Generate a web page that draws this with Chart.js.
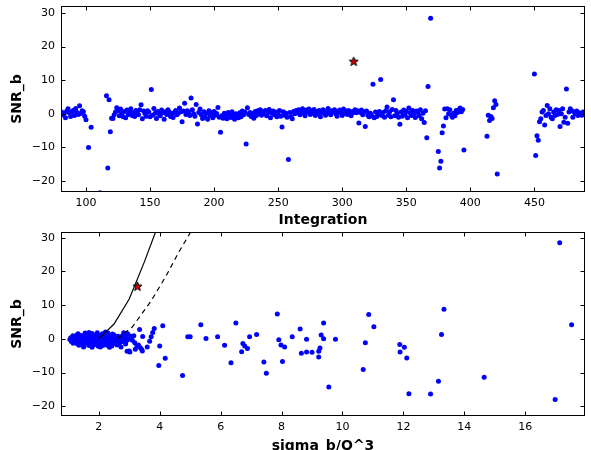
<!DOCTYPE html>
<html>
<head>
<meta charset="utf-8">
<script src="https://cdn.jsdelivr.net/npm/chart.js@4/dist/chart.umd.min.js"></script>
<style>
  html, body { margin: 0; padding: 0; background: #fff; overflow: hidden; width: 591px; height: 450px; }
  canvas { position: absolute; left: 0; }
  #c1 { top: 0; }
  #c2 { top: 226px; }
</style>
</head>
<body>
<canvas id="c1" width="591" height="240"></canvas>
<canvas id="c2" width="591" height="240"></canvas>
<script>
// ---------------- DATA: top panel (SNR_b vs Integration) ----------------
// Band segments: consecutive integrations starting at the given index
const segAStart = 81;
const segA = [0.5,-0.3,0.2,-1.2,0.8,1.5,0.3,-0.8,0.6,1.0,-0.5,1.6,0.4,-0.2,2.4,0.1,0.9,0.6,-0.7,-1.8];
const segBStart = 120;
const segB = [
  -1.3,-1.4,-0.3,0.5,1.8,0.9,-0.6,1.4,0.2,-0.9,
  0.7,-1.2,1.1,-0.2,0.6,1.5,-0.5,0.3,-0.8,1.0,
  0.4,-0.3,1.2,2.7,-1.5,0.8,0.1,-0.7,0.9,0.5,
  -0.9,7.2,-0.4,1.6,0.2,-1.4,0.7,0.0,-0.6,1.1,
  0.3,-1.6,0.6,-0.2,1.2,0.5,-0.8,0.1,-1.1,0.4,
  1.0,-0.3,0.2,1.7,0.6,-2.4,0.8,3.1,-0.2,0.9,
  0.5,-0.5,4.7,1.2,0.0,-0.7,2.8,-3.0,0.4,1.4,
  -0.3,-1.4,0.6,-0.9,0.2,-1.6,0.9,-0.5,0.3,-1.2,
  0.7,-0.4,0.1,1.9,-1.0,-5.5,-0.6,-1.3,0.2,-0.8,
  -1.5,0.4,-0.2,-1.1,0.6,-0.7,-1.6,0.0,-0.4,-1.2,
  0.3,-0.9,0.8,-0.3,0.5,-9.0,1.8,-0.2,0.4,-0.8,
  0.1,-1.3,0.7,-0.5,0.9,0.2,1.2,-0.4,0.6,0.0,
  1.0,-0.6,0.4,1.3,-1.2,0.2,0.8,-0.3,0.5,-0.9,
  0.3,1.0,-0.7,-3.9,0.6,-0.4,0.2,-1.0,-13.6,0.4,
  -0.8,-1.5,0.7,0.0,1.0,0.3,1.2,-0.3,0.8,1.5,
  0.2,-0.6,1.1,0.5,1.4,-0.2,0.9,0.1,1.3,-0.5,
  0.6,0.0,1.0,-0.9,0.4,1.2,0.3,-0.4,0.8,1.6,
  0.2,-0.3,0.9,0.5,1.2,0.0,-0.7,0.6,1.1,0.3,
  -0.5,1.4,0.2,0.8,-0.2,1.0,0.5,-0.6,0.7,0.4,
  1.2,0.3,0.9,-2.7,0.4,1.1,-0.3,0.6,-3.8,0.8,
  -0.4,-0.9,0.2,-0.6,8.8,-1.2,0.5,-0.8,-0.3,0.7,
  10.2,-0.5,0.4,-1.0,0.9,2.0,-0.4,0.6,-0.9,1.3,
  4.2,-0.6,1.0,0.2,-1.0,-3.1,0.5,-0.7,1.1,-0.2,
  0.7,-1.2,1.7,0.3,-0.5,1.0,0.1,-1.1,0.8,0.4,
  -0.6,1.2,-1.5,0.2,-2.6,0.9
];
const segCStart = 380;
const segC = [1.4,-1.2,1.5,0.0,1.2,-0.3,-1.0,0.2,-0.6,1.0,0.4,1.1,1.7,0.6,1.3];
const segDStart = 413;
const segD = [-6.7,-0.4,-2.0,-0.8,-1.4,1.8,3.9,2.8,-17.9];
const segEStart = 450;
const segE = [11.8,-12.4,-6.5,-7.9,-2.4,-1.5,0.5,1.0,-3.3,-0.5,
  2.5,0.0,1.5,-1.0,-1.5,0.5,-0.5,1.2,-0.2,1.0,
  -3.8,0.0,1.5,-2.5,-1.0,7.4,-2.8,0.5,1.5,1.0,
  -1.0,0.5,0.0,0.8,-0.5,0.3,0.0,-0.4,0.5,0.2];
// Isolated points
const topOutX = [102, 104, 111, 116, 117, 118, 119, 366, 367, 369, 375, 376, 377, 378, 379, 395];
const topOutY = [-10.0, -4.0, -23.5, 5.4, -16.1, 4.2, -5.3, -7.1, 8.1, 28.4, -11.2, -16.1, -14.1, -5.6, -3.6, -10.8];
// Highlighted (star)
const starIntegration = [309];
const starSNR = [15.6];
const starSigma = [3.27];

// Tick definitions
const topXRange = [80.5, 489.5], topXStep = 50;
const topYRange = [-23.25, 32.05], ySteps = 10;
const botXRange = [0.76, 17.96], botXStep = 2;
const botYRange = [-22.9, 31.7];

// ---------------- DATA: bottom panel (SNR_b vs sigma_b/Q^3) ----------------
const clusterSigma = [
  1.32,1.55,1.78,1.95,2.12,2.30,2.45,1.68,2.22,
  1.15,1.28,1.42,1.60,1.73,1.88,2.02,2.18,2.33,2.50,2.63,2.78,
  1.08,1.22,1.37,1.52,1.66,1.82,1.97,2.12,2.27,2.42,2.57,2.72,2.88,
  1.05,1.18,1.33,1.48,1.62,1.77,1.92,2.07,2.22,2.37,2.52,2.67,2.82,2.97,
  1.10,1.25,1.40,1.55,1.70,1.85,2.00,2.15,2.30,2.45,2.60,2.75,2.90,
  1.16,1.30,1.45,1.60,1.75,1.90,2.05,2.20,2.35,2.50,2.68,
  1.35,1.52,1.68,1.83,1.98,2.13,2.28,2.43,2.60,
  1.50,1.78,2.05,2.35,
  3.05,3.10,2.95,2.88,2.73,3.00,3.20,3.15,2.82
];
const clusterSNR = [
  1.5,1.7,1.6,1.8,1.5,1.7,1.4,1.9,2.0,
  0.9,1.1,1.0,1.2,0.8,1.1,1.0,1.2,0.9,1.1,0.8,1.0,
  0.3,0.5,0.4,0.6,0.3,0.5,0.4,0.6,0.3,0.5,0.4,0.2,0.5,
  -0.2,-0.1,-0.3,-0.1,-0.2,-0.3,0.0,-0.2,-0.1,-0.3,-0.2,0.0,-0.3,-0.1,
  -0.8,-0.7,-0.9,-0.8,-0.6,-0.9,-0.8,-0.7,-0.9,-0.8,-0.6,-0.9,-0.7,
  -1.3,-1.5,-1.4,-1.2,-1.5,-1.3,-1.4,-1.6,-1.3,-1.4,-1.2,
  -1.9,-2.1,-2.0,-1.8,-2.2,-2.0,-1.9,-2.1,-1.8,
  -2.4,-2.5,-2.4,-2.5,
  0.8,-0.4,1.5,-1.5,-2.4,-3.6,-3.1,0.9,1.8
];
const botSigma = [3.34,3.44,2.93,3.02,3.18,3.25,3.30,3.36,3.41,3.43,3.59,3.67,3.72,3.77,3.82,
  4.00,3.97,4.10,4.18,4.75,4.92,5.00,5.35,5.52,5.90,6.13,6.34,6.50,6.69,6.73,6.79,6.88,6.95,
  7.18,7.42,7.50,7.86,7.91,7.98,8.03,8.10,8.35,8.61,8.65,8.82,8.82,9.00,9.22,9.22,9.26,9.30,
  9.38,9.38,9.55,9.77,10.68,10.75,10.86,11.03,11.88,11.89,12.03,12.11,12.18,12.89,13.15,
  13.25,13.33,14.65,16.98,17.13,17.52];
const botSNR = [2.8,0.7,-3.7,-3.9,-1.2,-2.0,-1.8,-2.6,-3.2,-3.6,-2.4,-0.7,0.6,1.9,3.1,
  -2.1,-7.9,3.9,-5.8,-10.9,0.6,0.6,4.2,0.1,0.6,-1.9,-7.1,4.7,-3.8,-1.4,-2.1,-2.9,0.6,
  1.3,-6.9,-10.2,7.4,-0.3,-1.8,-6.7,-2.4,0.6,2.9,-4.3,-0.1,-3.9,-4.0,-5.4,-3.7,-2.7,1.1,
  4.7,0.0,-14.3,-0.1,-9.1,-1.2,7.2,3.6,-1.7,-3.9,-2.5,-5.7,-16.3,-16.4,-12.6,
  1.3,8.8,-11.4,-18.0,28.5,4.2];
// Threshold curves
const solidSigma = [2.0, 2.5, 3.0, 3.5, 4.0];
const solidSNR   = [0.0, 4.4, 11.8, 22.9, 35.0];
const dashSigma  = [2.6, 3.1, 3.7, 4.2, 4.6, 5.1];
const dashSNR    = [0.0, 3.5, 11.0, 18.5, 25.3, 33.0];

// ---------------- build point lists ----------------
function seg(start, vals) { return vals.map((v, i) => ({x: start + i, y: v})); }
function pairs(xs, ys) { return xs.map((x, i) => ({x: x, y: ys[i]})); }

const topPoints = [].concat(
  seg(segAStart, segA), seg(segBStart, segB), seg(segCStart, segC),
  seg(segDStart, segD), seg(segEStart, segE), pairs(topOutX, topOutY));
const botPoints = [].concat(pairs(clusterSigma, clusterSNR), pairs(botSigma, botSNR));

// ---------------- styling helpers ----------------
const FONT = "'DejaVu Sans', sans-serif";
Chart.defaults.font.family = FONT;
Chart.defaults.color = '#000';

function makeStar() {
  const c = document.createElement('canvas');
  c.width = 11; c.height = 11;
  const g = c.getContext('2d');
  const cx = 5.5, cy = 5.8, R = 4.8, r = 2.0;
  g.beginPath();
  for (let i = 0; i < 10; i++) {
    const a = -Math.PI / 2 + i * Math.PI / 5;
    const rr = i % 2 === 0 ? R : r;
    const px = cx + rr * Math.cos(a), py = cy + rr * Math.sin(a);
    if (i === 0) g.moveTo(px, py); else g.lineTo(px, py);
  }
  g.closePath();
  g.fillStyle = '#cc0000';
  g.fill();
  g.lineWidth = 1;
  g.strokeStyle = '#000';
  g.stroke();
  return c;
}
const starImg = makeStar();

const framePlugin = {
  id: 'frame',
  afterDraw(chart) {
    const {ctx, chartArea: a, scales} = chart;
    const L = Math.round(a.left) + 0.5, R = Math.round(a.right) - 0.5;
    const T = Math.round(a.top) + 0.5, B = Math.round(a.bottom) - 0.5;
    ctx.save();
    ctx.strokeStyle = '#000';
    ctx.lineWidth = 1;
    ctx.beginPath();
    const len = 4;
    scales.x.ticks.forEach(t => {
      const px = Math.round(scales.x.getPixelForValue(t.value)) + 0.5;
      ctx.moveTo(px, B); ctx.lineTo(px, B - len);
      ctx.moveTo(px, T); ctx.lineTo(px, T + len);
    });
    scales.y.ticks.forEach(t => {
      const py = Math.round(scales.y.getPixelForValue(t.value)) + 0.5;
      ctx.moveTo(L, py); ctx.lineTo(L + len, py);
      ctx.moveTo(R, py); ctx.lineTo(R - len, py);
    });
    ctx.stroke();
    ctx.strokeRect(L, T, R - L, B - T);
    ctx.restore();
  }
};

const minusFmt = v => String(v).replace('-', '\u2212');

function axisX(range, step, title, titlePadBottom, height) {
  return {
    type: 'linear', position: 'bottom', min: range[0], max: range[1],
    grid: {display: false, drawTicks: false}, border: {display: false},
    ticks: {stepSize: step, includeBounds: false, padding: 5, maxRotation: 0, autoSkip: false,
            font: {size: 11, family: FONT}, color: '#000', callback: minusFmt},
    title: {display: true, text: title, color: '#000',
            font: {size: 14, weight: 'bold', family: FONT}, padding: {top: 0, bottom: titlePadBottom}},
    afterFit: s => { s.height = height; s.paddingLeft = 0; s.paddingRight = 0; s.paddingTop = 0; s.paddingBottom = 0; }
  };
}
function axisY(range) {
  return {
    type: 'linear', position: 'left', min: range[0], max: range[1],
    grid: {display: false, drawTicks: false}, border: {display: false},
    ticks: {stepSize: ySteps, includeBounds: false, padding: 6, autoSkip: false,
            font: {size: 11, family: FONT}, color: '#000', callback: minusFmt},
    title: {display: true, text: 'SNR_b', color: '#000',
            font: {size: 14, weight: 'bold', family: FONT}, padding: {top: 9, bottom: 0}},
    afterFit: s => { s.width = 61; s.paddingLeft = 0; s.paddingRight = 0; s.paddingTop = 0; s.paddingBottom = 0; }
  };
}

const common = {
  responsive: false, animation: false,
  plugins: {legend: {display: false}, tooltip: {enabled: false}},
  events: []
};

new Chart(document.getElementById('c1'), {
  type: 'scatter',
  data: {datasets: [
    {data: pairs(starIntegration, starSNR), pointStyle: starImg, pointRadius: 5, order: 0},
    {data: topPoints, backgroundColor: '#0000ff', borderColor: '#0000ff', borderWidth: 0, pointRadius: 2.5, order: 2}
  ]},
  options: Object.assign({}, common, {
    layout: {padding: {top: 5, right: 2, left: 0, bottom: 0}},
    scales: {x: axisX(topXRange, topXStep, 'Integration', 11, 48), y: axisY(topYRange)}
  }),
  plugins: [framePlugin]
});

new Chart(document.getElementById('c2'), {
  type: 'scatter',
  data: {datasets: [
    {data: pairs(starSigma, starSNR), pointStyle: starImg, pointRadius: 5, order: 0},
    {type: 'line', data: pairs(solidSigma, solidSNR), borderColor: '#000', borderWidth: 1.2,
     pointRadius: 0, fill: false, tension: 0, order: 1},
    {type: 'line', data: pairs(dashSigma, dashSNR), borderColor: '#000', borderWidth: 1.2,
     borderDash: [5, 4], pointRadius: 0, fill: false, tension: 0, order: 1},
    {data: botPoints, backgroundColor: '#0000ff', borderColor: '#0000ff', borderWidth: 0, pointRadius: 2.5, order: 2}
  ]},
  options: Object.assign({}, common, {
    layout: {padding: {top: 4, right: 2, left: 0, bottom: 0}},
    scales: {x: axisX(botXRange, botXStep, 'sigma_b/Q^3', 11, 50), y: axisY(botYRange)}
  }),
  plugins: [framePlugin]
});
</script>
</body>
</html>
